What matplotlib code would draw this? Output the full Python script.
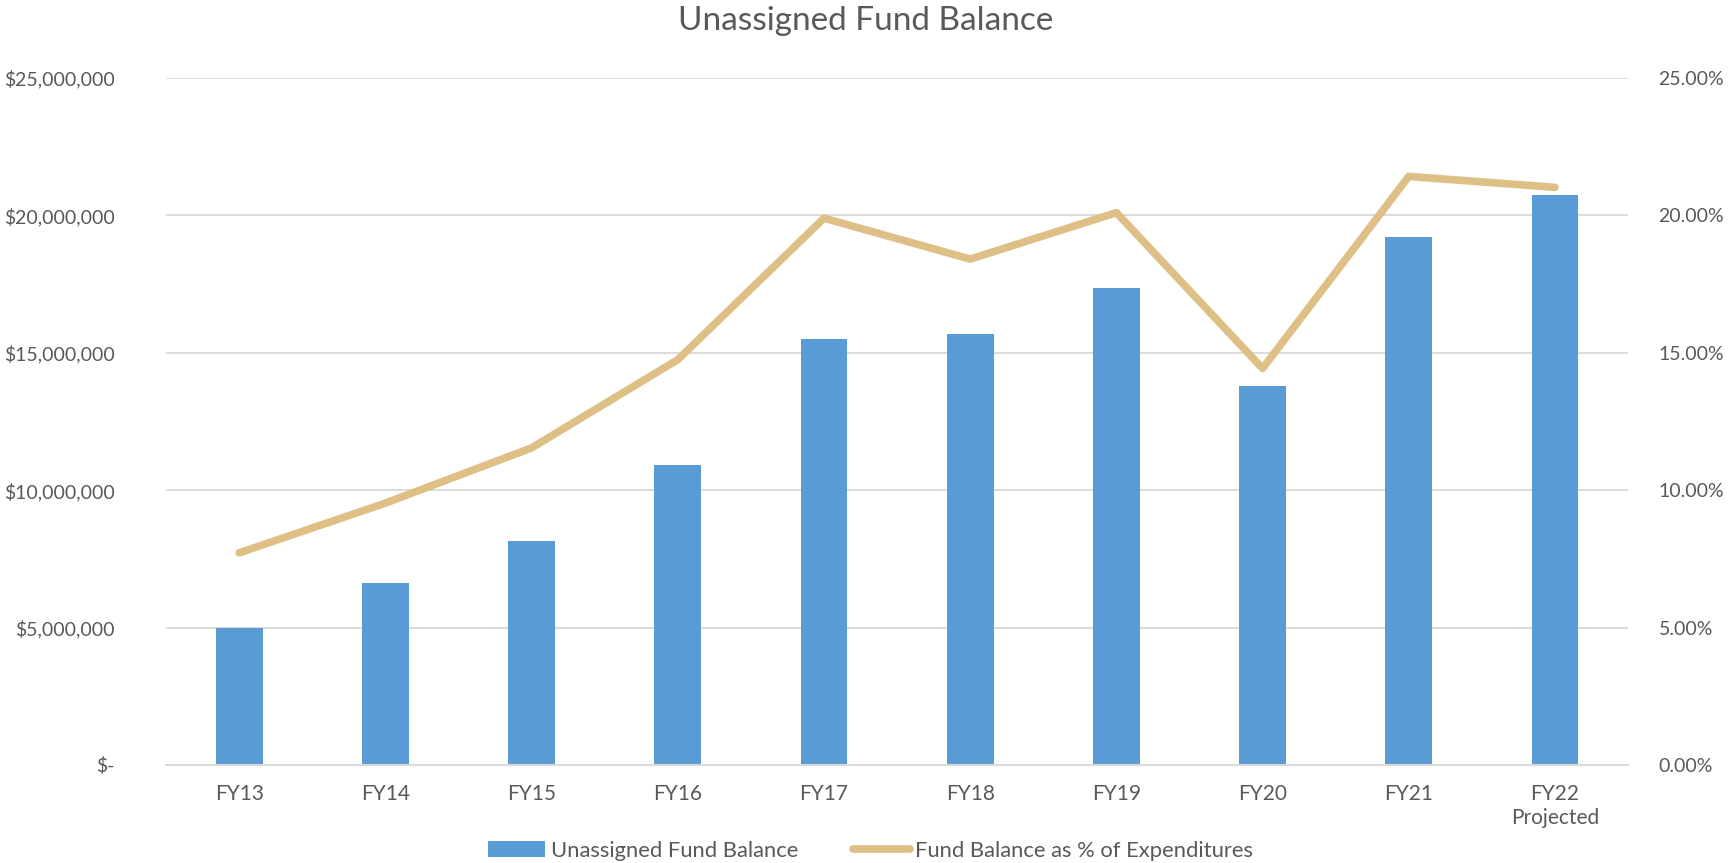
import matplotlib.pyplot as plt
from matplotlib.ticker import FuncFormatter

# data
years = ['FY13', 'FY14', 'FY15', 'FY16', 'FY17', 'FY18', 'FY19', 'FY20', 'FY21', 'FY22\nProjected']
fund_balance = [5.0e6, 6.63e6, 8.16e6, 10.93e6, 15.51e6, 15.68e6, 17.36e6, 13.79e6, 19.21e6, 20.74e6]
pct_expenditures = [7.72, 9.53, 11.54, 14.75, 19.9, 18.41, 20.1, 14.43, 21.42, 21.02]

plt.rcParams['font.family'] = ['Lato', 'DejaVu Sans']
text_color = '#595959'
bar_color = '#5B9BD5'
line_color = '#DEBF86'

fig = plt.figure(figsize=(17.31, 8.63), dpi=100)
ax1 = fig.add_axes([0.096, 0.1136, 0.8445, 0.796])
x = range(len(years))

bars = ax1.bar(x, fund_balance, width=0.32, color=bar_color, label='Unassigned Fund Balance', zorder=2)
ax1.set_ylim(0, 25e6)
ax1.set_xlim(-0.5, len(years) - 0.5)
ax1.set_yticks([i * 5e6 for i in range(6)])


def money(v, pos):
    if v == 0:
        return '$-'
    return '${:,.0f}'.format(v)


ax1.yaxis.set_major_formatter(FuncFormatter(money))
ax1.set_xticks(list(x))
ax1.set_xticklabels(years)
ax1.grid(axis='y', color='#D9D9D9', linewidth=1.3, zorder=0)
ax1.set_axisbelow(True)
for s in ['top', 'right', 'left']:
    ax1.spines[s].set_visible(False)
ax1.spines['bottom'].set_color('#D9D9D9')
ax1.spines['bottom'].set_linewidth(1.5)
ax1.tick_params(axis='x', length=0, labelsize=15, labelcolor=text_color, pad=14)
ax1.tick_params(axis='y', length=0, labelsize=14, labelcolor=text_color, pad=37)

ax2 = ax1.twinx()
line, = ax2.plot(x, pct_expenditures, color=line_color, linewidth=5.5, solid_capstyle='round',
                 label='Fund Balance as % of Expenditures', zorder=3)
ax2.set_ylim(0, 25)
ax2.set_yticks([0, 5, 10, 15, 20, 25])
ax2.yaxis.set_major_formatter(FuncFormatter(lambda v, p: '{:.2f}%'.format(v)))
for s in ['top', 'right', 'left', 'bottom']:
    ax2.spines[s].set_visible(False)
ax2.tick_params(axis='y', length=0, labelsize=14, labelcolor=text_color, pad=22)

fig.suptitle('Unassigned Fund Balance', fontsize=24, color=text_color, y=0.993)
fig.legend([bars, line], ['Unassigned Fund Balance', 'Fund Balance as % of Expenditures'],
           loc='lower center', bbox_to_anchor=(0.503, -0.02), ncol=2, frameon=False,
           fontsize=15.8, labelcolor=text_color, handlelength=2.6, columnspacing=2.5,
           handletextpad=0.25)

plt.savefig('out.png', dpi=100)
